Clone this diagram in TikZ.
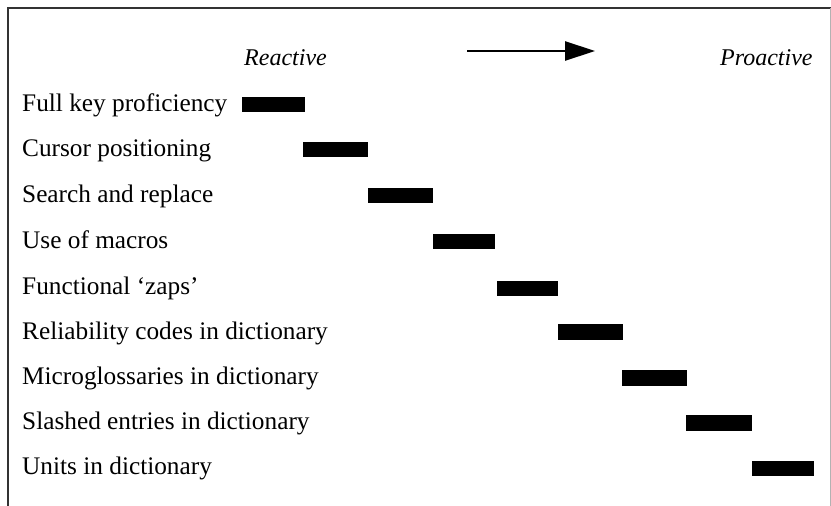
\documentclass[tikz,border=0pt]{standalone}
\usepackage{fontspec}
\setmainfont{Liberation Serif}
\usetikzlibrary{arrows.meta}
\tikzset{
  lbl/.style={anchor=base west, inner sep=0pt, font=\fontsize{25.3}{28}\selectfont},
  hdr/.style={anchor=base west, inner sep=0pt, font=\fontsize{24}{28}\selectfont\itshape},
  bar/.style={fill=black, draw=none, inner sep=0pt, minimum height=15.5pt},
  frame/.style={line width=1.2pt, draw=black!80},
}
\begin{document}
\begin{tikzpicture}[x=1pt,y=-1pt]
\useasboundingbox (0,0) rectangle (831,506);
% frame
\coordinate (f1) at (8,506);
\coordinate (f2) at (8,8);
\coordinate (f3) at (831,8);
\coordinate (f4) at (830,8);
\coordinate (f5) at (830,506);
\draw[frame] (f1) -- (f2) -- (f3);
\draw[line width=0.8pt, draw=black!30] (f4) -- (f5);
% header
\node[hdr] (react) at (244,65) {Reactive};
\node[hdr] (proact) at (720,65) {Proactive};
\coordinate (a1) at (467,51);
\coordinate (a2) at (595,51);
\draw[line width=2.8pt, -{Triangle[length=30pt,width=19pt]}] (a1) -- (a2);
% labels
\node[lbl] (t1) at (22,111) {Full key proficiency};
\node[lbl] (t2) at (22,156) {Cursor positioning};
\node[lbl] (t3) at (22,202) {Search and replace};
\node[lbl] (t4) at (22,248) {Use of macros};
\node[lbl] (t5) at (22,294) {Functional ‘zaps’};
\node[lbl] (t6) at (22,339) {Reliability codes in dictionary};
\node[lbl] (t7) at (22,384) {Microglossaries in dictionary};
\node[lbl] (t8) at (22,429) {Slashed entries in dictionary};
\node[lbl] (t9) at (22,474) {Units in dictionary};
% bars
\node[bar, minimum width=63pt] (b1) at (273.5,104.5) {};
\node[bar, minimum width=65pt] (b2) at (335.5,149.5) {};
\node[bar, minimum width=65pt] (b3) at (400.5,195.5) {};
\node[bar, minimum width=62pt] (b4) at (464,241.5) {};
\node[bar, minimum width=61pt] (b5) at (527.5,288.5) {};
\node[bar, minimum width=65pt] (b6) at (590.5,332) {};
\node[bar, minimum width=65pt] (b7) at (654.5,378) {};
\node[bar, minimum width=66pt] (b8) at (719,423) {};
\node[bar, minimum width=62pt] (b9) at (783,468.5) {};
\end{tikzpicture}
\end{document}
